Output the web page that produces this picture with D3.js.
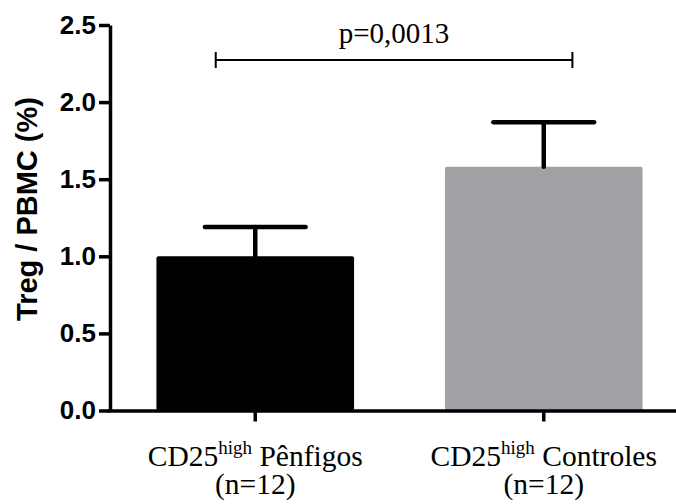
<!DOCTYPE html>
<html>
<head>
<meta charset="utf-8">
<script src="https://cdn.jsdelivr.net/npm/d3@7"></script>
<style>
  html, body { margin: 0; padding: 0; background: #fff; }
  svg { display: block; }
</style>
</head>
<body>
<svg id="chart" width="676" height="504"></svg>
<script>
// Treg frequency among PBMC, mean + SEM per group
const groups = ["Pênfigos", "Controles"];
const groupN = [12, 12];
const means = [1.0, 1.58];
const sems = [0.19, 0.29];
const barColors = ["#000000", "#a1a1a5"];
const yTicks = [0, 0.5, 1.0, 1.5, 2.0, 2.5];
const pLabel = "p=0,0013";
const yTitle = "Treg / PBMC (%)";

const svg = d3.select("#chart");
const W = 676, H = 504;
const axisX = 110;

const y = d3.scaleLinear().domain([0, 2.5]).range([410.5, 25]);
const x = d3.scaleBand().domain(groups).range([111, 688])
  .paddingInner(0.315).paddingOuter(0.1575);

// bars
svg.append("g").selectAll("rect").data(groups).join("rect")
  .attr("x", d => x(d))
  .attr("width", x.bandwidth())
  .attr("y", (d, i) => y(means[i]))
  .attr("height", (d, i) => y(0) - y(means[i]))
  .attr("rx", 2)
  .attr("fill", (d, i) => barColors[i]);

// error bars (upper only)
const eb = svg.append("g").attr("stroke", "#000").attr("stroke-width", 4.5)
  .attr("stroke-linecap", "round");
groups.forEach((g, i) => {
  const cx = x(g) + x.bandwidth() / 2;
  const capHalf = x.bandwidth() * 0.255;
  eb.append("line").attr("x1", cx).attr("x2", cx)
    .attr("y1", y(means[i])).attr("y2", y(means[i] + sems[i]));
  eb.append("line").attr("x1", cx - capHalf).attr("x2", cx + capHalf)
    .attr("y1", y(means[i] + sems[i])).attr("y2", y(means[i] + sems[i]));
});

// y axis
const yAxis = svg.append("g").attr("transform", `translate(${axisX},0)`)
  .call(d3.axisLeft(y).tickValues(yTicks).tickFormat(d3.format(".1f"))
    .tickSize(11).tickPadding(3).tickSizeOuter(0));
yAxis.select(".domain").attr("stroke-width", 3.5);
yAxis.selectAll(".tick line").attr("stroke-width", 3.5);
yAxis.selectAll(".tick text")
  .attr("font-family", "'Liberation Sans', Arial, sans-serif")
  .attr("font-weight", "bold").attr("font-size", 26).attr("fill", "#000");

// x axis
const xAxis = svg.append("g").attr("transform", `translate(0,${y(0)})`)
  .call(d3.axisBottom(x).tickSize(11).tickSizeOuter(0).tickFormat(""));
xAxis.select(".domain").attr("d", `M${axisX - 1.75},0.5H${W + 5}`).attr("stroke-width", 3.5);
xAxis.selectAll(".tick line").attr("stroke-width", 3.5);

// category labels with superscript
const labels = svg.append("g")
  .attr("font-family", "'Liberation Serif', 'Times New Roman', serif")
  .attr("fill", "#000").attr("text-anchor", "middle");
groups.forEach((g, i) => {
  const cx = x(g) + x.bandwidth() / 2;
  const t1 = labels.append("text").attr("x", cx).attr("y", 466).attr("font-size", 29.5);
  t1.append("tspan").text("CD25");
  t1.append("tspan").attr("font-size", 19).attr("dy", -12).text("high");
  t1.append("tspan").attr("dy", 12).text(" " + g);
  labels.append("text").attr("x", cx).attr("y", 494).attr("font-size", 29.5)
    .text(`(n=${groupN[i]})`);
});

// y axis title
svg.append("text")
  .attr("transform", "translate(37,209) rotate(-90)")
  .attr("text-anchor", "middle")
  .attr("font-family", "'Liberation Sans', Arial, sans-serif")
  .attr("font-weight", "bold").attr("font-size", 29).attr("fill", "#000")
  .text(yTitle);

// significance bracket
const bx1 = x(groups[0]) + x.bandwidth() * 0.3;
const bx2 = x(groups[1]) + x.bandwidth() * 0.645;
const by = 60;
const br = svg.append("g").attr("stroke", "#000").attr("stroke-width", 2);
br.append("line").attr("x1", bx1).attr("x2", bx2).attr("y1", by).attr("y2", by);
br.append("line").attr("x1", bx1).attr("x2", bx1).attr("y1", by - 8).attr("y2", by + 8);
br.append("line").attr("x1", bx2).attr("x2", bx2).attr("y1", by - 8).attr("y2", by + 8);
svg.append("text")
  .attr("x", (bx1 + bx2) / 2).attr("y", 43)
  .attr("text-anchor", "middle")
  .attr("font-family", "'Liberation Serif', 'Times New Roman', serif")
  .attr("font-size", 29).attr("fill", "#000")
  .text(pLabel);
</script>
</body>
</html>
